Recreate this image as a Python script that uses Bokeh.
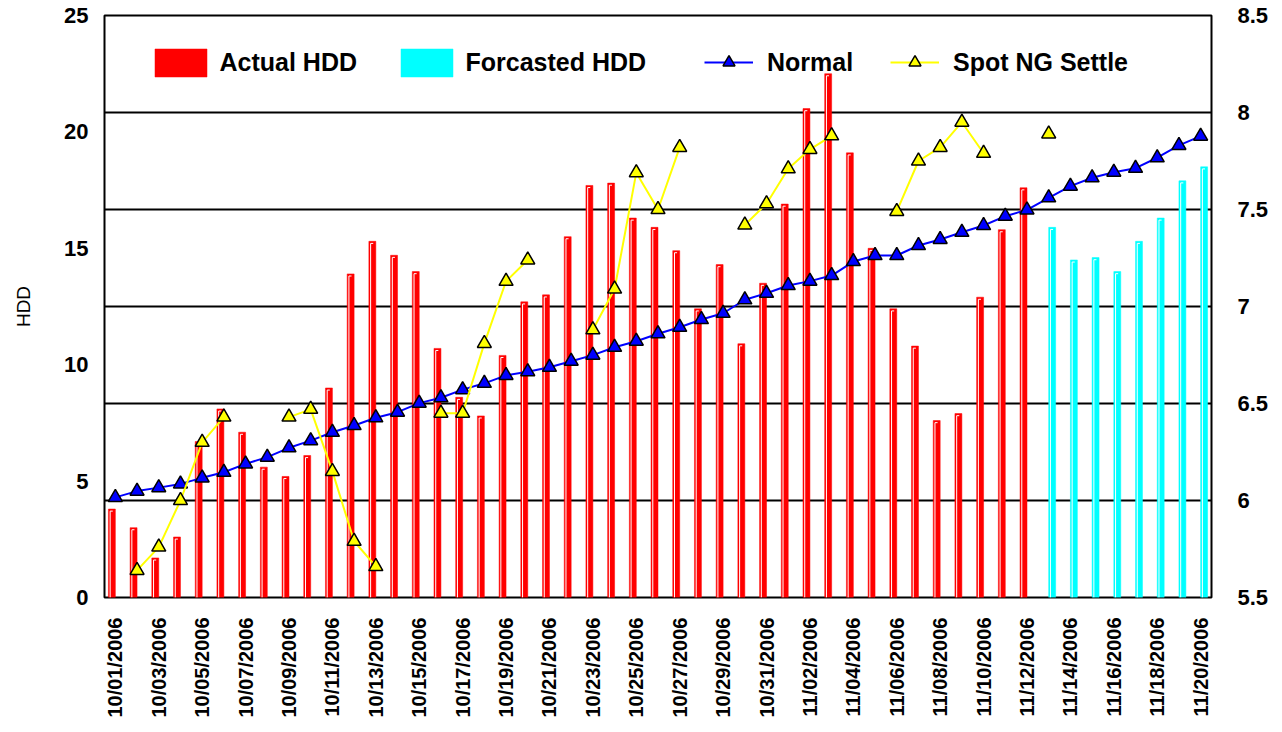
import math
from bokeh.plotting import figure
from bokeh.models import (Range1d, LinearAxis, FixedTicker, CustomJSTickFormatter,
                          Grid, Legend, LegendItem)
from bokeh.embed import file_html
from bokeh.resources import INLINE

# ---------------- data ----------------
dates = ([f"10/{d:02d}/2006" for d in range(1, 32)] +
         [f"11/{d:02d}/2006" for d in range(1, 21)])

# Actual HDD: 10/01 .. 11/12
actual_hdd = [3.8, 3.0, 1.7, 2.6, 6.7, 8.1, 7.1, 5.6, 5.2, 6.1,
              9.0, 13.9, 15.3, 14.7, 14.0, 10.7, 8.6, 7.8, 10.4, 12.7,
              13.0, 15.5, 17.7, 17.8, 16.3, 15.9, 14.9, 12.4, 14.3, 10.9,
              13.5, 16.9, 21.0, 22.5, 19.1, 15.0, 12.4, 10.8, 7.6, 7.9,
              12.9, 15.8, 17.6]
# Forcasted HDD: 11/13 .. 11/20
forecast_hdd = [15.9, 14.5, 14.6, 14.0, 15.3, 16.3, 17.9, 18.5]

# Normal HDD: 10/01 .. 11/20
normal_hdd = [4.30, 4.57, 4.72, 4.88, 5.14, 5.38, 5.74, 6.03, 6.43, 6.74,
              7.10, 7.39, 7.72, 7.96, 8.35, 8.58, 8.93, 9.20, 9.54, 9.70,
              9.89, 10.15, 10.41, 10.75, 11.01, 11.33, 11.61, 11.94, 12.21, 12.79,
              13.07, 13.40, 13.59, 13.83, 14.43, 14.69, 14.69, 15.12, 15.38, 15.69,
              15.98, 16.38, 16.65, 17.17, 17.67, 18.03, 18.27, 18.44, 18.89, 19.42,
              19.82]

# Spot NG Settle (right axis), None = no trading day
spot_ng = [None, 5.64, 5.76, 6.00, 6.30, 6.43, None, None, 6.43, 6.47,
           6.15, 5.79, 5.66, None, None, 6.45, 6.45, 6.81, 7.13, 7.24,
           None, None, 6.88, 7.09, 7.69, 7.50, 7.82, None, None, 7.42,
           7.53, 7.71, 7.81, 7.88, None, None, 7.49, 7.75, 7.82, 7.95,
           7.79, None, None, 7.89, None, None, None, None, None, None,
           None]

left_ticks = [0, 5, 10, 15, 20, 25]
right_ticks = [5.5, 6, 6.5, 7, 7.5, 8, 8.5]
grid_ticks = [6, 6.5, 7, 7.5, 8]

# ---------------- style ----------------
FONT = "Liberation Sans"
BAR_W = 0.32
BAR_OFF = 0.16
HX, HY, HL = 0.08, 0.09, 0.12

W, H = 1282, 732
p = figure(width=W, height=H, output_backend="svg", toolbar_location=None,
           x_range=Range1d(-0.5, len(dates) - 0.5), y_range=Range1d(0, 25),
           min_border_left=104, min_border_right=71, min_border_top=15,
           min_border_bottom=135)
p.extra_y_ranges = {"ng": Range1d(5.5, 8.5)}
p.background_fill_color = "white"
p.border_fill_color = "white"
p.outline_line_color = "black"
p.outline_line_width = 2
p.xgrid.visible = False
p.ygrid.visible = False

g = Grid(dimension=1, ticker=FixedTicker(ticks=grid_ticks), y_range_name="ng",
         grid_line_color="black", grid_line_width=2)
p.add_layout(g)


def style_axis(ax, size, standoff):
    ax.major_label_text_font = FONT
    ax.major_label_text_font_size = size
    ax.major_label_text_font_style = "bold"
    ax.major_label_text_color = "black"
    ax.major_label_standoff = standoff
    ax.major_tick_line_color = None
    ax.minor_tick_line_color = None
    ax.major_tick_out = 0
    ax.major_tick_in = 0
    ax.minor_tick_out = 0
    ax.minor_tick_in = 0
    ax.axis_line_color = None


# left axis
yl = p.yaxis[0]
yl.ticker = FixedTicker(ticks=left_ticks)
style_axis(yl, "22px", 16)
yl.axis_label = "HDD"
yl.axis_label_text_font = FONT
yl.axis_label_text_font_size = "19px"
yl.axis_label_text_font_style = "normal"
yl.axis_label_text_color = "black"
yl.axis_label_standoff = 27

# right axis
yr = LinearAxis(y_range_name="ng", ticker=FixedTicker(ticks=right_ticks),
                formatter=CustomJSTickFormatter(code="return String(tick);"))
style_axis(yr, "22px", 26)
p.add_layout(yr, "right")

# bottom axis
xa = p.xaxis[0]
xticks = list(range(0, len(dates), 2))
xa.ticker = FixedTicker(ticks=xticks)
xa.major_label_overrides = {i: dates[i] for i in xticks}
style_axis(xa, "20px", 20)
xa.major_label_orientation = math.pi / 2

# ---------------- bars ----------------
n_act = len(actual_hdd)
x_act = [i - BAR_OFF for i in range(n_act)]
x_fc = [n_act + i + BAR_OFF for i in range(len(forecast_hdd))]

r_act = p.vbar(x=x_act, top=actual_hdd, width=BAR_W, fill_color="#FF0000",
               line_color="#FF0000", line_width=0.5)
r_fc = p.vbar(x=x_fc, top=forecast_hdd, width=BAR_W, fill_color="#00FFFF",
              line_color="#00FFFF", line_width=0.5)


def highlight(xs, tops):
    xl = [x - BAR_W / 2 + HX for x in xs]
    ty = [t - HY for t in tops]
    p.segment(x0=xl, y0=[0] * len(xs), x1=xl, y1=ty, line_color="white", line_width=1)
    p.segment(x0=xl, y0=ty, x1=[x + HL for x in xl], y1=ty, line_color="white", line_width=1)


highlight(x_act, actual_hdd)
highlight(x_fc, forecast_hdd)

# ---------------- lines ----------------
xs = list(range(len(dates)))
r_nl = p.line(xs, normal_hdd, line_color="#0000FF", line_width=2)
r_nm = p.scatter(xs, normal_hdd, marker="triangle", size=14, fill_color="#0000FF",
                 line_color="black", line_width=1.5)

spot_vals = [math.nan if v is None else v for v in spot_ng]
r_sl = p.line(xs, spot_vals, y_range_name="ng", line_color="#FFFF00", line_width=2)
r_sm = p.scatter(xs, spot_vals, y_range_name="ng", marker="triangle", size=14,
                 fill_color="#FFFF00", line_color="black", line_width=1.5)


# ---------------- legends ----------------
def make_legend(label, renderers, loc, gw, gh, standoff):
    lg = Legend(items=[LegendItem(label=label, renderers=renderers)], location=loc,
                orientation="horizontal", glyph_width=gw, glyph_height=gh,
                label_standoff=standoff, padding=0, margin=0, spacing=0,
                border_line_color=None, background_fill_alpha=0,
                label_text_font=FONT, label_text_font_size="25px",
                label_text_font_style="bold", label_text_color="black")
    p.add_layout(lg)


make_legend("Actual HDD", [r_act], (43.5, 517.5), 65, 35, 7)
make_legend("Forcasted HDD", [r_fc], (289.5, 517.5), 65, 35, 7)
make_legend("Normal", [r_nl, r_nm], (600, 520), 49, 30, 14)
make_legend("Spot NG Settle", [r_sl, r_sm], (786, 520), 49, 30, 14)

open("out.html", "w").write(file_html(p, INLINE))
